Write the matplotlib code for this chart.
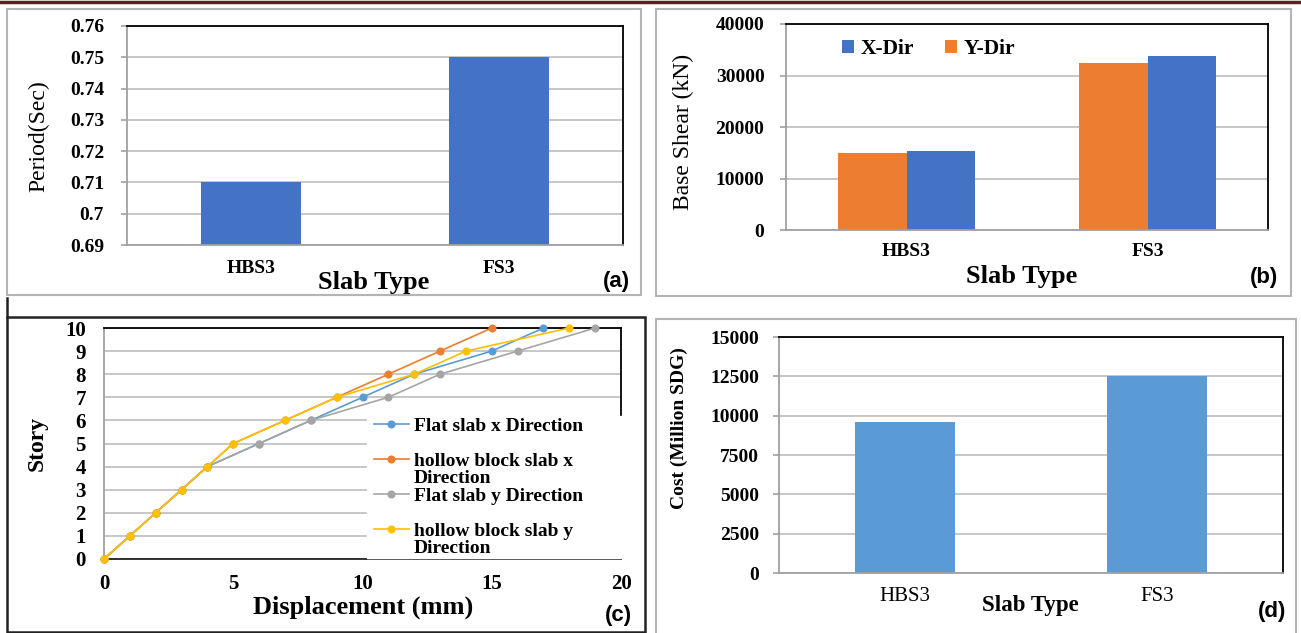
import matplotlib.pyplot as plt
from matplotlib.patches import Rectangle
from matplotlib.lines import Line2D
from matplotlib.ticker import FuncFormatter

W, H = 1301, 633

slab_types = ['HBS3', 'FS3']
period = [0.71, 0.75]
shear_x = [15400, 33700]
shear_y = [14900, 32400]
cost = [9600, 12500]

stories = [0, 1, 2, 3, 4, 5, 6, 7, 8, 9, 10]
flat_x = [0, 1, 2, 3, 4, 6, 8, 10, 12, 15, 17]
hollow_x = [0, 1, 2, 3, 4, 5, 7, 9, 11, 13, 15]
flat_y = [0, 1, 2, 3, 4, 6, 8, 11, 13, 16, 19]
hollow_y = [0, 1, 2, 3, 4, 5, 7, 9, 12, 14, 18]

SERIF = 'Liberation Serif'
SANS = 'Liberation Sans'
GRID = '#c3c3c3'
AXGRAY = '#a0a0a0'
TICK = 14

fig = plt.figure(figsize=(W / 100, H / 100), dpi=100)


def px_box(x0, y0, x1, y1):
    return [x0 / W, 1 - y1 / H, (x1 - x0) / W, (y1 - y0) / H]


def frame(x0, y0, x1, y1, color, lw=1.5):
    fig.patches.append(Rectangle((x0 / W, 1 - y1 / H), (x1 - x0) / W, (y1 - y0) / H,
                                 transform=fig.transFigure, fill=False, ec=color, lw=lw))


def style_axes(ax, bottom_color=AXGRAY):
    ax.set_axisbelow(True)
    ax.grid(axis='y', color=GRID, lw=1.3)
    ax.spines['left'].set_color(AXGRAY)
    ax.spines['bottom'].set_color(bottom_color)
    ax.spines['top'].set_color('black')
    ax.spines['right'].set_color('black')
    for s in ax.spines.values():
        s.set_linewidth(1.3)
    ax.tick_params(axis='y', length=4.5, color=AXGRAY, width=1.2)
    ax.tick_params(axis='x', length=0)


def tick_font(labels, bold=True, size=TICK):
    for t in labels:
        t.set_fontfamily(SERIF)
        t.set_fontweight('bold' if bold else 'normal')
        t.set_fontsize(size)


def place_label(ax, axis, px, py, box):
    # label centre in pixels -> axes coords
    x0, y0, x1, y1 = box
    lab = ax.xaxis.label if axis == 'x' else ax.yaxis.label
    lab.set_va('center')
    lab.set_ha('center')
    target = ax.xaxis if axis == 'x' else ax.yaxis
    target.set_label_coords((px - x0) / (x1 - x0), (y1 - py) / (y1 - y0))


def panel_tag(px, py, s):
    fig.text(px / W, 1 - py / H, s, ha='center', va='center',
             fontfamily=SANS, fontweight='bold', fontsize=16)


# top rule and panel frames
fig.add_artist(Line2D([0, 1], [1 - 1.5 / H, 1 - 1.5 / H], transform=fig.transFigure,
                      color='#6b1a1a', lw=2.5))
frame(7, 9, 641, 295, '#b4b4b4')
frame(656, 9, 1291, 296, '#b4b4b4')
frame(7, 317, 645, 632, '#222222', lw=1.8)
frame(656, 319, 1296, 645, '#b4b4b4')
fig.add_artist(Line2D([7 / W, 7 / W], [1 - 298 / H, 1 - 317 / H], transform=fig.transFigure,
                      color='#222222', lw=1.8))

# (a) period
box_a = (127, 26, 623, 245)
ax = fig.add_axes(px_box(*box_a))
ax.bar(range(len(slab_types)), period, width=0.4, color='#4472C4', zorder=2)
ax.set_xlim(-0.5, 1.5)
ax.set_ylim(0.69, 0.76)
ax.set_yticks([0.69, 0.70, 0.71, 0.72, 0.73, 0.74, 0.75, 0.76])
ax.yaxis.set_major_formatter(FuncFormatter(lambda v, p: f'{round(v, 2):g}'))
ax.set_xticks(range(len(slab_types)))
ax.set_xticklabels(slab_types)
style_axes(ax)
ax.tick_params(axis='y', pad=12)
ax.tick_params(axis='x', pad=11)
tick_font(ax.get_xticklabels() + ax.get_yticklabels())
ax.set_xlabel('Slab Type', fontfamily=SERIF, fontweight='bold', fontsize=19)
ax.set_ylabel('Period(Sec)', fontfamily=SERIF, fontsize=17)
place_label(ax, 'x', 374, 283, box_a)
place_label(ax, 'y', 39, 136, box_a)
panel_tag(616, 281, '(a)')

# (b) base shear
box_b = (786, 24, 1268, 230)
ax = fig.add_axes(px_box(*box_b))
bw = 0.285
xs = range(len(slab_types))
hx = ax.bar([i + bw / 2 for i in xs], shear_x, width=bw, color='#4472C4', zorder=2)
hy = ax.bar([i - bw / 2 for i in xs], shear_y, width=bw, color='#ED7D31', zorder=2)
ax.set_xlim(-0.5, 1.5)
ax.set_ylim(0, 40000)
ax.set_yticks([0, 10000, 20000, 30000, 40000])
ax.set_xticks(list(xs))
ax.set_xticklabels(slab_types)
style_axes(ax)
ax.tick_params(axis='y', pad=11)
ax.tick_params(axis='x', pad=9)
tick_font(ax.get_xticklabels() + ax.get_yticklabels())
ax.set_xlabel('Slab Type', fontfamily=SERIF, fontweight='bold', fontsize=19)
ax.set_ylabel('Base Shear (kN)', fontfamily=SERIF, fontsize=17)
place_label(ax, 'x', 1022, 276, box_b)
place_label(ax, 'y', 683, 132, box_b)
ax.legend([hx, hy], ['X-Dir', 'Y-Dir'], ncol=2, loc='center left',
          bbox_to_anchor=(0.075, 0.879), frameon=False, handlelength=0.6,
          handleheight=0.6, handletextpad=0.3, columnspacing=1.4,
          prop={'family': SERIF, 'weight': 'bold', 'size': 15.5})
panel_tag(1264, 277, '(b)')

# (c) story displacement
box_c = (104, 328, 621, 559)
ax = fig.add_axes(px_box(*box_c))
series = [
    (flat_x, '#5B9BD5', 'Flat slab x Direction', False),
    (hollow_x, '#ED7D31', 'hollow block slab x', True),
    (flat_y, '#A5A5A5', 'Flat slab y Direction', False),
    (hollow_y, '#FFC000', 'hollow block slab y', True),
]
for disp, col, lab, wrap in series:
    ax.plot(disp, stories, color=col, lw=1.2, marker='o', markersize=4.8,
            label=lab, clip_on=False, zorder=3)
ax.set_xlim(0, 20)
ax.set_ylim(0, 10)
ax.set_xticks([0, 5, 10, 15, 20])
ax.set_yticks(stories)
style_axes(ax, bottom_color='#222222')
ax.tick_params(axis='y', length=0, pad=13)
ax.tick_params(axis='x', pad=11)
tick_font(ax.get_xticklabels() + ax.get_yticklabels(), size=15)
ax.set_xlabel('Displacement (mm)', fontfamily=SERIF, fontweight='bold', fontsize=19)
ax.set_ylabel('Story', fontfamily=SERIF, fontweight='bold', fontsize=17)
place_label(ax, 'x', 363, 607, box_c)
place_label(ax, 'y', 37, 443, box_c)
ax.add_patch(Rectangle((0.509, 0.006), 0.53, 0.612, transform=ax.transAxes,
                       color='white', zorder=2.6, clip_on=False))
leg = ax.legend(loc='upper left', bbox_to_anchor=(0.522, 0.615), frameon=False,
                borderaxespad=0, borderpad=0.0, handlelength=1.8, handletextpad=0.25,
                labelspacing=0.9, prop={'family': SERIF, 'weight': 'bold', 'size': 14})
leg.set_zorder(5)
# second line of the wrapped legend entries
for txt, (disp, col, lab, wrap) in zip(leg.get_texts(), series):
    if wrap:
        a = ax.annotate('Direction', xy=(0, 0), xycoords=txt, xytext=(0, -0.4),
                        textcoords='offset points', ha='left', va='top',
                        fontfamily=SERIF, fontweight='bold', fontsize=14)
        a.set_zorder(6)
panel_tag(618, 615, '(c)')

# (d) cost
box_d = (779, 337, 1283, 573)
ax = fig.add_axes(px_box(*box_d))
ax.bar(range(len(slab_types)), cost, width=0.4, color='#5B9BD5', zorder=2)
ax.set_xlim(-0.5, 1.5)
ax.set_ylim(0, 15000)
ax.set_yticks([0, 2500, 5000, 7500, 10000, 12500, 15000])
ax.set_xticks(range(len(slab_types)))
ax.set_xticklabels(slab_types)
style_axes(ax)
ax.tick_params(axis='y', pad=10)
ax.tick_params(axis='x', pad=10)
tick_font(ax.get_yticklabels())
tick_font(ax.get_xticklabels(), bold=False, size=15)
ax.set_xlabel('Slab Type', fontfamily=SERIF, fontweight='bold', fontsize=16.5)
ax.set_ylabel('Cost (Million SDG)', fontfamily=SERIF, fontweight='bold', fontsize=14)
place_label(ax, 'x', 1030, 605, box_d)
place_label(ax, 'y', 679, 428, box_d)
panel_tag(1272, 612, '(d)')

fig.savefig('out.png', dpi=100)
